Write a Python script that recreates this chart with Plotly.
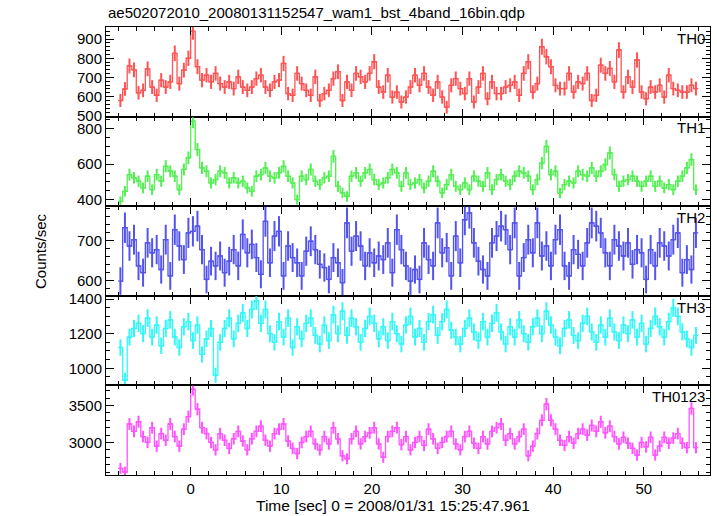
import numpy as np
import plotly.graph_objects as go
from plotly.subplots import make_subplots

# bin centres (0.5 s bins)
time_sec = [-7.75 + 0.5 * k for k in range(128)]

th0 = [580, 640, 760, 740, 620, 633, 745, 650, 607, 686, 650, 677, 826, 668, 738, 800,
       940, 756, 686, 712, 677, 721, 668, 650, 677, 642, 703, 650, 633, 650, 694, 712,
       650, 633, 677, 686, 773, 616, 607, 721,
       668, 633, 607, 703, 580, 616, 633, 694, 730, 580, 677, 633, 721, 703, 677, 721,
       782, 650, 624, 712, 598, 624, 572, 598, 650, 712, 659, 721, 650, 607, 677, 598,
       545, 659, 694, 642, 616, 694, 572, 650, 721, 589, 677, 616,
       616, 650, 659, 677, 607, 721, 782, 624, 668, 860, 808, 756, 659, 642, 642, 721,
       624, 677, 668, 721, 580, 607, 764, 721, 747, 677, 843, 624, 703, 650, 791, 624,
       589, 650, 624, 659, 598, 712, 642, 633, 624, 624, 659, 642]

th1 = [390, 447, 541, 523, 504, 466, 532, 456, 541, 504, 588, 560, 532, 456, 570, 636,
       843, 682, 579, 560, 494, 513, 560, 551, 494, 523, 494, 504, 466, 447, 532, 541,
       579, 532, 523, 551, 588, 532, 494, 400, 532, 513, 570, 504, 485, 523, 532, 644,
       475, 438, 419, 532, 551, 504, 551, 570, 513, 485, 494, 523, 570, 551,
       475, 551, 485, 494, 513, 466, 504, 560, 504, 438, 485, 541, 475, 456, 494, 456,
       532, 504, 475, 551, 456, 513, 541, 504, 485, 532, 560, 551, 532, 456, 513, 606,
       700, 541, 560, 438, 485, 504, 494, 560, 541, 532, 579, 532, 560, 598, 663, 541,
       475, 504, 513, 532, 504, 475, 504, 532, 475, 504, 466, 485, 456, 504, 532, 579,
       626, 456]

th2 = [598, 732, 686, 702, 636, 619, 694, 669, 677, 627, 702, 611, 727, 686, 652, 719,
       723, 736, 677, 602, 648, 636, 661, 619, 648, 677, 636, 715, 669, 690, 657, 615,
       748, 644, 711, 723, 611, 686, 657, 644, 611, 673, 698, 677, 640, 632, 602, 657,
       644, 594, 744, 673, 711, 686, 636, 669, 644, 661, 652, 694, 619, 727,
       677, 636, 598, 627, 602, 694, 652, 636, 744, 669, 682, 611, 711, 644, 752, 769,
       694, 648, 627, 611, 694, 711, 736, 727, 677, 744, 611, 657, 702, 669, 744, 661,
       686, 636, 702, 727, 636, 611, 677, 665, 636, 694, 744, 736, 719, 669, 636, 702,
       686, 661, 694, 640, 677, 669, 602, 677, 636, 694, 686, 661, 702, 719, 619, 652,
       627, 719]

th3 = [1120, 930, 1180, 1230, 1260, 1200, 1290, 1180, 1250, 1130,
       1230, 1280, 1180, 1120, 1240, 1270, 1160, 1250, 1080, 1170,
       1230, 960, 1150, 1230, 1290, 1170, 1260, 1320, 1230, 1340,
       1390, 1260, 1340, 1200, 1150, 1270, 1180, 1290, 1120, 1240,
       1170, 1260, 1290, 1190, 1140, 1250, 1160, 1310, 1200, 1330,
       1190, 1290, 1240, 1150, 1230, 1300, 1260, 1170, 1240, 1160,
       1270, 1200, 1140, 1250, 1300, 1180, 1230, 1150, 1270, 1310,
       1190, 1270, 1340, 1220, 1180, 1140, 1230, 1290, 1210, 1160,
       1270, 1180, 1260, 1320, 1210, 1140, 1240, 1180, 1280, 1200,
       1150, 1240, 1290, 1200, 1330, 1250, 1180, 1130, 1230, 1280,
       1190, 1160, 1260, 1300, 1210, 1150, 1250, 1180, 1290, 1210,
       1160, 1250, 1200, 1280, 1180, 1260, 1140, 1230, 1300, 1240,
       1180, 1270, 1350, 1300, 1210, 1170, 1120, 1190]

th0123 = [2650, 2600, 3250, 3150, 3280, 3080, 3000, 3200, 2950, 3120,
          3030, 3250, 3080, 2950, 3180, 3350, 3720, 3450, 3200, 3120,
          3000, 2900, 3120, 3030, 2920, 3050, 3150, 3020, 2900, 3050,
          3150, 3220, 3030, 2950, 3120, 3180, 3250, 3020, 2920, 2850,
          3000, 3080, 3150, 2980, 2900, 3080, 2980, 3200, 3050, 2820,
          2780, 3050, 3150, 2980, 3080, 3130, 3200, 2980, 2800, 3080,
          3150, 3200, 2970, 3080, 2900, 3000, 3080, 2960, 3180, 3050,
          2920, 3000, 3080, 3150, 2980, 2900, 3080, 3150, 2990, 2920,
          3080, 2980, 3150, 3200, 3250, 3030, 3120, 2980, 3080, 3180,
          2820, 2950, 3120, 3300, 3520, 3300, 3180, 3030, 2960, 3080,
          2990, 3120, 3180, 3100, 3230, 3150, 3280, 3130, 3220, 3080,
          2980, 3070, 2990, 2920, 2830, 3000, 2940, 3070, 2830, 2950,
          3070, 2990, 3060, 3120, 2990, 2930, 3460, 2930]

series = [("TH0", th0, "rgb(255,40,40)", [496, 963], 100, 20),
          ("TH1", th1, "rgb(40,235,40)", [363, 868], 200, 50),
          ("TH2", th2, "rgb(40,40,235)", [561, 786], 100, 20),
          ("TH3", th3, "rgb(0,245,245)", [901, 1419], 200, 50),
          ("TH0123", th0123, "rgb(255,40,255)", [2560, 3772], 500, 100)]

fig = make_subplots(rows=5, cols=1, shared_xaxes=True, vertical_spacing=0)

FONT = "Liberation Sans, Arial, sans-serif"
for i, (name, vals, col, yr, dt, mdt) in enumerate(series, start=1):
    v = np.array(vals, dtype=float)
    err = np.sqrt(2.0 * v)
    fig.add_trace(go.Scatter(
        x=time_sec, y=v, mode="lines",
        line=dict(color=col, width=1.3, shape="hvh"),
        error_x=dict(type="constant", value=0.25, width=0, thickness=1.3, color=col),
        error_y=dict(type="data", array=err, width=0, thickness=2.0, color=col),
        opacity=0.8, showlegend=False, cliponaxis=True), row=i, col=1)
    fig.update_yaxes(range=yr, dtick=dt, row=i, col=1,
                     minor=dict(dtick=mdt, ticklen=4, ticks="inside", tickcolor="black"))
    fig.add_annotation(text=name, xref="x domain", yref="y domain",
                       x=0.995, y=0.99, xanchor="right", yanchor="top",
                       showarrow=False, font=dict(size=15, color="black", family=FONT),
                       row=i, col=1)

fig.update_xaxes(range=[-9.34, 57.3], dtick=10, ticks="inside", ticklen=8, tickcolor="black",
                 showline=True, linecolor="black", linewidth=1, mirror="ticks",
                 showgrid=False, zeroline=False,
                 minor=dict(dtick=2, ticklen=4, ticks="inside", tickcolor="black"),
                 tickfont=dict(size=15, family=FONT, color="black"))
fig.update_yaxes(ticks="inside", ticklen=8, tickcolor="black",
                 showline=True, linecolor="black", linewidth=1, mirror="ticks",
                 showgrid=False, zeroline=False,
                 tickfont=dict(size=15, family=FONT, color="black"))

fig.add_annotation(text="ae502072010_20080131152547_wam1_bst_4band_16bin.qdp",
                   xref="paper", yref="paper", x=0.0, y=1.0, yshift=4,
                   xanchor="left", yanchor="bottom", showarrow=False,
                   font=dict(size=15, family=FONT, color="black"))
fig.add_annotation(text="Time [sec] 0 = 2008/01/31 15:25:47.961",
                   xref="paper", yref="paper", x=0.475, y=0, yshift=-20,
                   xanchor="center", yanchor="top", showarrow=False,
                   font=dict(size=15.5, family=FONT, color="black"))
fig.add_annotation(text="Counts/sec", xref="paper", yref="paper", x=0, xshift=-66, y=0.5,
                   textangle=-90, xanchor="center", yanchor="middle", showarrow=False,
                   font=dict(size=15, family=FONT, color="black"))

fig.update_layout(width=717, height=516, margin=dict(l=106, r=7, t=27, b=41),
                  plot_bgcolor="white", paper_bgcolor="white",
                  font=dict(family=FONT, color="black"))
fig.write_html("out.html", config={"displayModeBar": False},
               post_script="document.body.style.margin='0px';document.body.style.overflow='hidden';")
